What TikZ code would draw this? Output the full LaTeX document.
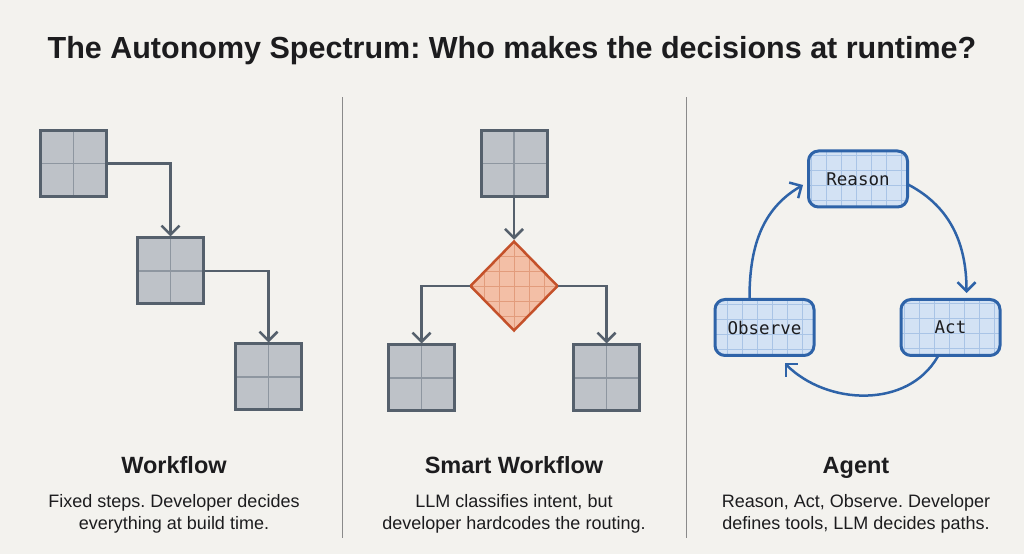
\documentclass[tikz,border=0pt]{standalone}
\usepackage{fontspec}
\setmainfont{Liberation Sans}
\setmonofont{DejaVu Sans Mono}
\usetikzlibrary{arrows.meta,shapes.geometric}
\frenchspacing

\definecolor{paper}{HTML}{F3F2EE}
\definecolor{ink}{HTML}{1C1C1E}
\definecolor{slate}{HTML}{55606C}
\definecolor{boxgray}{HTML}{BEC2C8}
\definecolor{crossgray}{HTML}{8E96A0}
\definecolor{rust}{HTML}{C4512A}
\definecolor{peach}{HTML}{F3BFA6}
\definecolor{peachgrid}{HTML}{E29C7C}
\definecolor{agentblue}{HTML}{2E63A8}
\definecolor{agentfill}{HTML}{D3E2F4}
\definecolor{agentgrid}{HTML}{A9C4E6}
\definecolor{divider}{HTML}{8A8A8A}

\tikzset{
	stepbox/.style={draw=slate, fill=boxgray, line width=3pt, minimum size=66pt, inner sep=0pt,
		path picture={\draw[line width=1.2pt, draw=crossgray]
			(path picture bounding box.north) -- (path picture bounding box.south)
			(path picture bounding box.west) -- (path picture bounding box.east);}},
	decisionbox/.style={diamond, draw=rust, fill=peach, line width=2.5pt,
		minimum width=88pt, minimum height=90pt, inner sep=0pt,
		path picture={\draw[line width=0.8pt, draw=peachgrid, step=15pt]
			(path picture bounding box.south west) grid (path picture bounding box.north east);}},
	agentbox/.style={draw=agentblue, fill=agentfill, line width=3pt, rounded corners=10pt,
		minimum width=99pt, minimum height=56pt, inner sep=0pt,
		font=\fontsize{17.5}{20}\selectfont\ttfamily, text=ink,
		path picture={\draw[line width=0.8pt, draw=agentgrid, step=15pt]
			(path picture bounding box.south west) grid (path picture bounding box.north east);}},
	flowline/.style={draw=slate, line width=2.5pt, -{Straight Barb[length=9pt,width=18pt]}},
	loopline/.style={draw=agentblue, line width=2.5pt, -{Straight Barb[length=9pt,width=18pt]}},
	heading/.style={anchor=base, text=ink, font=\fontsize{23.5}{28}\selectfont\bfseries},
	caption/.style={anchor=base, text=ink, align=center, font=\fontsize{18}{22}\selectfont},
}

\begin{document}
\begin{tikzpicture}[x=1pt, y=1pt, line cap=rect]

% Paper
\fill[paper] (0,0) rectangle (1024,554);

% Title
\node[anchor=base, text=ink, font=\fontsize{30.5}{36}\selectfont\bfseries] (title) at (512,495)
{The Autonomy Spectrum: Who makes the decisions at runtime?};

% Dividers
\draw[divider, line width=1pt] (342,456) -- (342,17);
\draw[divider, line width=1pt] (686,456) -- (686,17);

% Workflow panel
\node[stepbox] (b1) at (73.5,390.5) {};
\node[stepbox] (b2) at (170.5,283) {};
\node[stepbox] (b3) at (268.5,177) {};
\draw[flowline] (b1.east) -| (b2.north);
\draw[flowline] (b2.east) -| (b3.north);
\node[heading] (wf) at (174,81) {Workflow};
\node[caption] (wfcap) at (174,25) {Fixed steps. Developer decides\\everything at build time.};

% Smart workflow panel
\node[stepbox] (in) at (514,390.5) {};
\node[decisionbox] (route) at (514,268) {};
\node[stepbox] (left) at (421.5,176) {};
\node[stepbox] (right) at (606.5,176) {};
\draw[flowline] (in.south) -- (route.north);
\draw[flowline] (route.west) -| (left.north);
\draw[flowline] (route.east) -| (right.north);
\node[heading] (swf) at (514,81) {Smart Workflow};
\node[caption] (swfcap) at (514,25) {LLM classifies intent, but\\developer hardcodes the routing.};

% Agent panel
\node[agentbox] (reason) at (858,375) {Reason};
\node[agentbox] (observe) at (764.5,226.5) {Observe};
\node[agentbox] (act) at (950.5,226.5) {Act};
\draw[loopline] ([xshift=-15pt]observe.north) to[out=90, in=210] ([xshift=-4pt,yshift=-6pt]reason.west);
\draw[loopline] ([yshift=-6pt]reason.east) to[out=-28, in=90] ([xshift=16pt,yshift=5pt]act.north);
\draw[loopline] ([xshift=-13pt]act.south) to[out=-120, in=-45] ([xshift=20pt,yshift=-6pt]observe.south);
\node[heading] (ag) at (856,81) {Agent};
\node[caption] (agcap) at (856,25) {Reason, Act, Observe. Developer\\defines tools, LLM decides paths.};

\end{tikzpicture}
\end{document}
